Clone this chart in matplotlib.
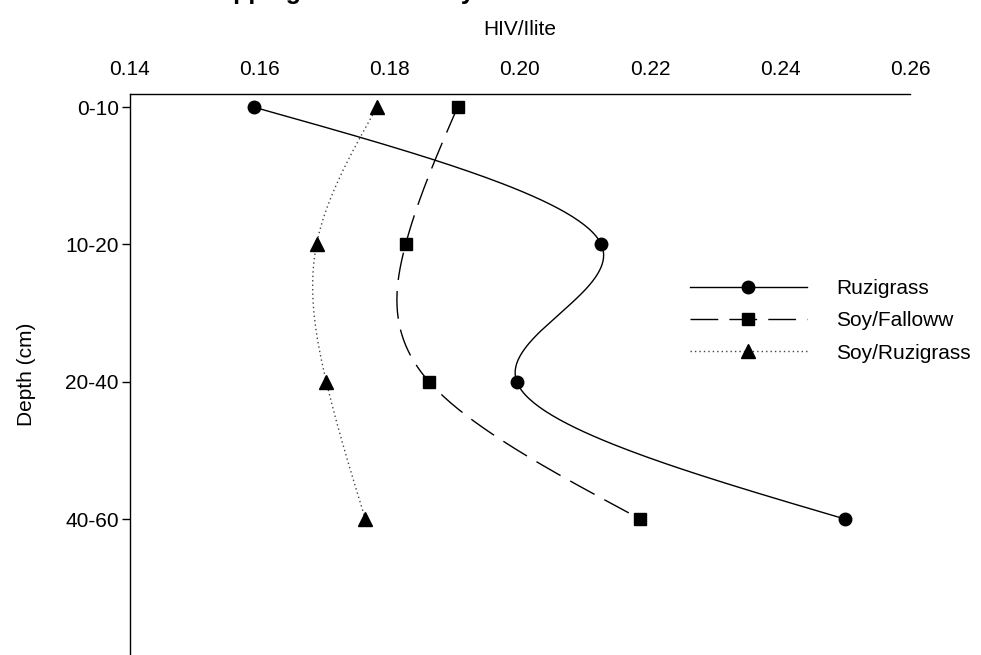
import numpy as np
import matplotlib
matplotlib.use("Agg")
import matplotlib.pyplot as plt

plt.rcParams["font.family"] = ["Liberation Sans", "DejaVu Sans"]

depths = ["0-10", "10-20", "20-40", "40-60"]
ruzigrass = [0.159, 0.2125, 0.1995, 0.250]
soy_fallow = [0.1904, 0.1824, 0.1860, 0.2185]
soy_ruzigrass = [0.1780, 0.1687, 0.1702, 0.1762]


def natural_spline(t, v, n=200):
    # natural cubic spline through (t, v)
    t = np.asarray(t, float)
    v = np.asarray(v, float)
    k = len(t)
    h = np.diff(t)
    A = np.zeros((k, k))
    b = np.zeros(k)
    A[0, 0] = A[-1, -1] = 1.0
    for i in range(1, k - 1):
        A[i, i - 1] = h[i - 1]
        A[i, i] = 2 * (h[i - 1] + h[i])
        A[i, i + 1] = h[i]
        b[i] = 6 * ((v[i + 1] - v[i]) / h[i] - (v[i] - v[i - 1]) / h[i - 1])
    M = np.linalg.solve(A, b)
    tt = np.linspace(t[0], t[-1], n)
    idx = np.clip(np.searchsorted(t, tt) - 1, 0, k - 2)
    t0, t1 = t[idx], t[idx + 1]
    hi = t1 - t0
    a = (t1 - tt) / hi
    c = (tt - t0) / hi
    vv = (a * v[idx] + c * v[idx + 1]
          + ((a ** 3 - a) * M[idx] + (c ** 3 - c) * M[idx + 1]) * hi ** 2 / 6)
    return tt, vv


fig = plt.figure(figsize=(9.81, 6.55), dpi=100)
ax = fig.add_axes([130 / 981, 0.0, 780 / 981, 1 - 94 / 655])

ypos = np.arange(len(depths))
series = [
    (ruzigrass, "Ruzigrass", "-", "o", 9),
    (soy_fallow, "Soy/Falloww", (0, (20, 8)), "s", 9),
    (soy_ruzigrass, "Soy/Ruzigrass", (0, (1, 2.2)), "^", 10),
]
for vals, name, ls, mk, ms in series:
    yy, xx = natural_spline(ypos, vals)
    lc = "black" if mk != "^" else "#444444"
    ax.plot(xx, yy, color=lc, lw=1.0, ls=ls)
    ax.plot(vals, ypos, ls="none", marker=mk, ms=ms, color="black")
    # proxy artist for the legend row
    ax.plot([], [], color=lc, lw=1.0, ls=ls, marker=mk, ms=ms,
            mfc="black", mec="black", label=name)

ax.set_xlim(0.14, 0.26)
ax.set_ylim(3.99, -0.095)
ax.xaxis.tick_top()
ax.xaxis.set_label_position("top")
ax.set_xticks(np.arange(0.14, 0.261, 0.02))
ax.set_xticklabels([f"{v:.2f}" for v in np.arange(0.14, 0.261, 0.02)])
ax.tick_params(axis="x", length=0, pad=11, labelsize=15)
ax.set_yticks(ypos)
ax.set_yticklabels(depths)
ax.tick_params(axis="y", direction="out", length=6, width=1, pad=2, labelsize=15)
ax.set_xlabel("HIV/Ilite", fontsize=15, labelpad=18)
ax.set_ylabel("Depth (cm)", fontsize=15, labelpad=21)

for side in ("right", "bottom"):
    ax.spines[side].set_visible(False)
for side in ("top", "left"):
    ax.spines[side].set_linewidth(1.0)

ax.legend(loc="upper left", bbox_to_anchor=(690 / 981, 1 - 279 / 655),
          bbox_transform=fig.transFigure, frameon=False, fontsize=15,
          handlelength=5.6, handletextpad=1.4, labelspacing=0.64,
          borderaxespad=0, borderpad=0)

# chart title sits above the top edge, only its lowest strokes show
fig.text(190 / 981, 1 + 1 / 655, "Cropping Effect on Clay", fontsize=18,
         fontweight="bold", va="baseline", ha="left")

fig.savefig("out.png", dpi=100)
